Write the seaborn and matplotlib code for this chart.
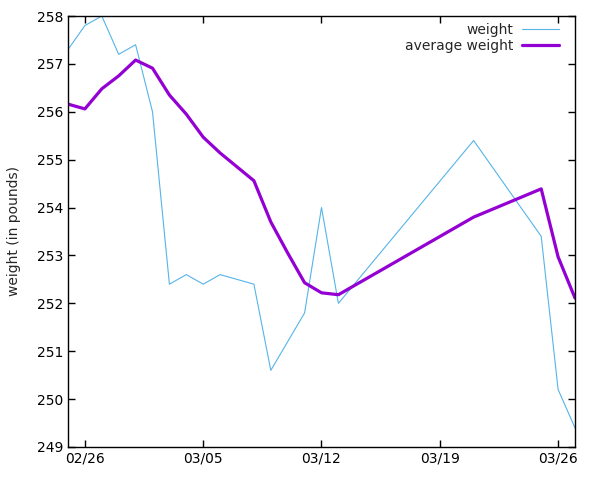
import pandas as pd
import matplotlib
matplotlib.use("Agg")
import matplotlib.pyplot as plt
import matplotlib.dates as mdates
import seaborn as sns

# ---------------------------
# Data
# ---------------------------
weight_dates = ["2013-02-25", "2013-02-26", "2013-02-27", "2013-02-28", "2013-03-01",
                "2013-03-02", "2013-03-03", "2013-03-04", "2013-03-05", "2013-03-06",
                "2013-03-08", "2013-03-09", "2013-03-11", "2013-03-12", "2013-03-13",
                "2013-03-21", "2013-03-25", "2013-03-26", "2013-03-27"]
weight = [257.3, 257.8, 258.0, 257.2, 257.4,
          256.0, 252.4, 252.6, 252.4, 252.6,
          252.4, 250.6, 251.8, 254.0, 252.0,
          255.4, 253.4, 250.2, 249.4]

avg_dates = ["2013-02-25", "2013-02-26", "2013-02-27", "2013-02-28", "2013-03-01",
             "2013-03-02", "2013-03-03", "2013-03-04", "2013-03-05", "2013-03-06",
             "2013-03-07", "2013-03-08", "2013-03-09", "2013-03-10", "2013-03-11",
             "2013-03-12", "2013-03-13", "2013-03-21", "2013-03-25", "2013-03-26",
             "2013-03-27"]
avg_weight = [256.16, 256.06, 256.48, 256.75, 257.08,
              256.91, 256.35, 255.95, 255.47, 255.14,
              254.85, 254.56, 253.70, 253.05, 252.43,
              252.22, 252.18, 253.80, 254.39, 252.97,
              252.11]

tick_dates = ["2013-02-26", "2013-03-05", "2013-03-12", "2013-03-19", "2013-03-26"]

df_weight = pd.DataFrame({"date": pd.to_datetime(weight_dates), "weight": weight})
df_avg = pd.DataFrame({"date": pd.to_datetime(avg_dates), "weight": avg_weight})

# ---------------------------
# Plot
# ---------------------------
sns.set_style("ticks")
plt.rcParams["font.family"] = ["DejaVu Sans"]

fig = plt.figure(figsize=(6, 4.8), dpi=100)
ax = fig.add_axes([68 / 600, 1 - 447 / 480, (575 - 68) / 600, (447 - 16) / 480])

sns.lineplot(data=df_weight, x="date", y="weight", color="#56b4e9",
             linewidth=0.8, label="weight", ax=ax)
sns.lineplot(data=df_avg, x="date", y="weight", color="#9400d3",
             linewidth=2.3, label="average weight", ax=ax)

ax.set_xlim(pd.Timestamp("2013-02-25"), pd.Timestamp("2013-03-27"))
ax.set_ylim(249, 258)
ax.set_yticks(range(249, 259))
ax.set_xticks(pd.to_datetime(tick_dates))
ax.xaxis.set_major_formatter(mdates.DateFormatter("%m/%d"))
ax.set_xlabel("")
ax.set_ylabel("weight (in pounds)", fontsize=10)
ax.yaxis.set_label_coords(-47 / 507, 0.5)
ax.tick_params(direction="in", length=5, width=1, top=True, right=True,
               labelsize=10, colors="black")
for s in ax.spines.values():
    s.set_linewidth(1)
    s.set_color("black")

ax.legend(loc="upper right", bbox_to_anchor=(1 - 6 / 507, 1 + 3 / 431),
          frameon=False, markerfirst=False, fontsize=10,
          handlelength=2.7, handletextpad=0.6, borderaxespad=0.3,
          labelspacing=0.15)

fig.savefig("out.png", dpi=100)
